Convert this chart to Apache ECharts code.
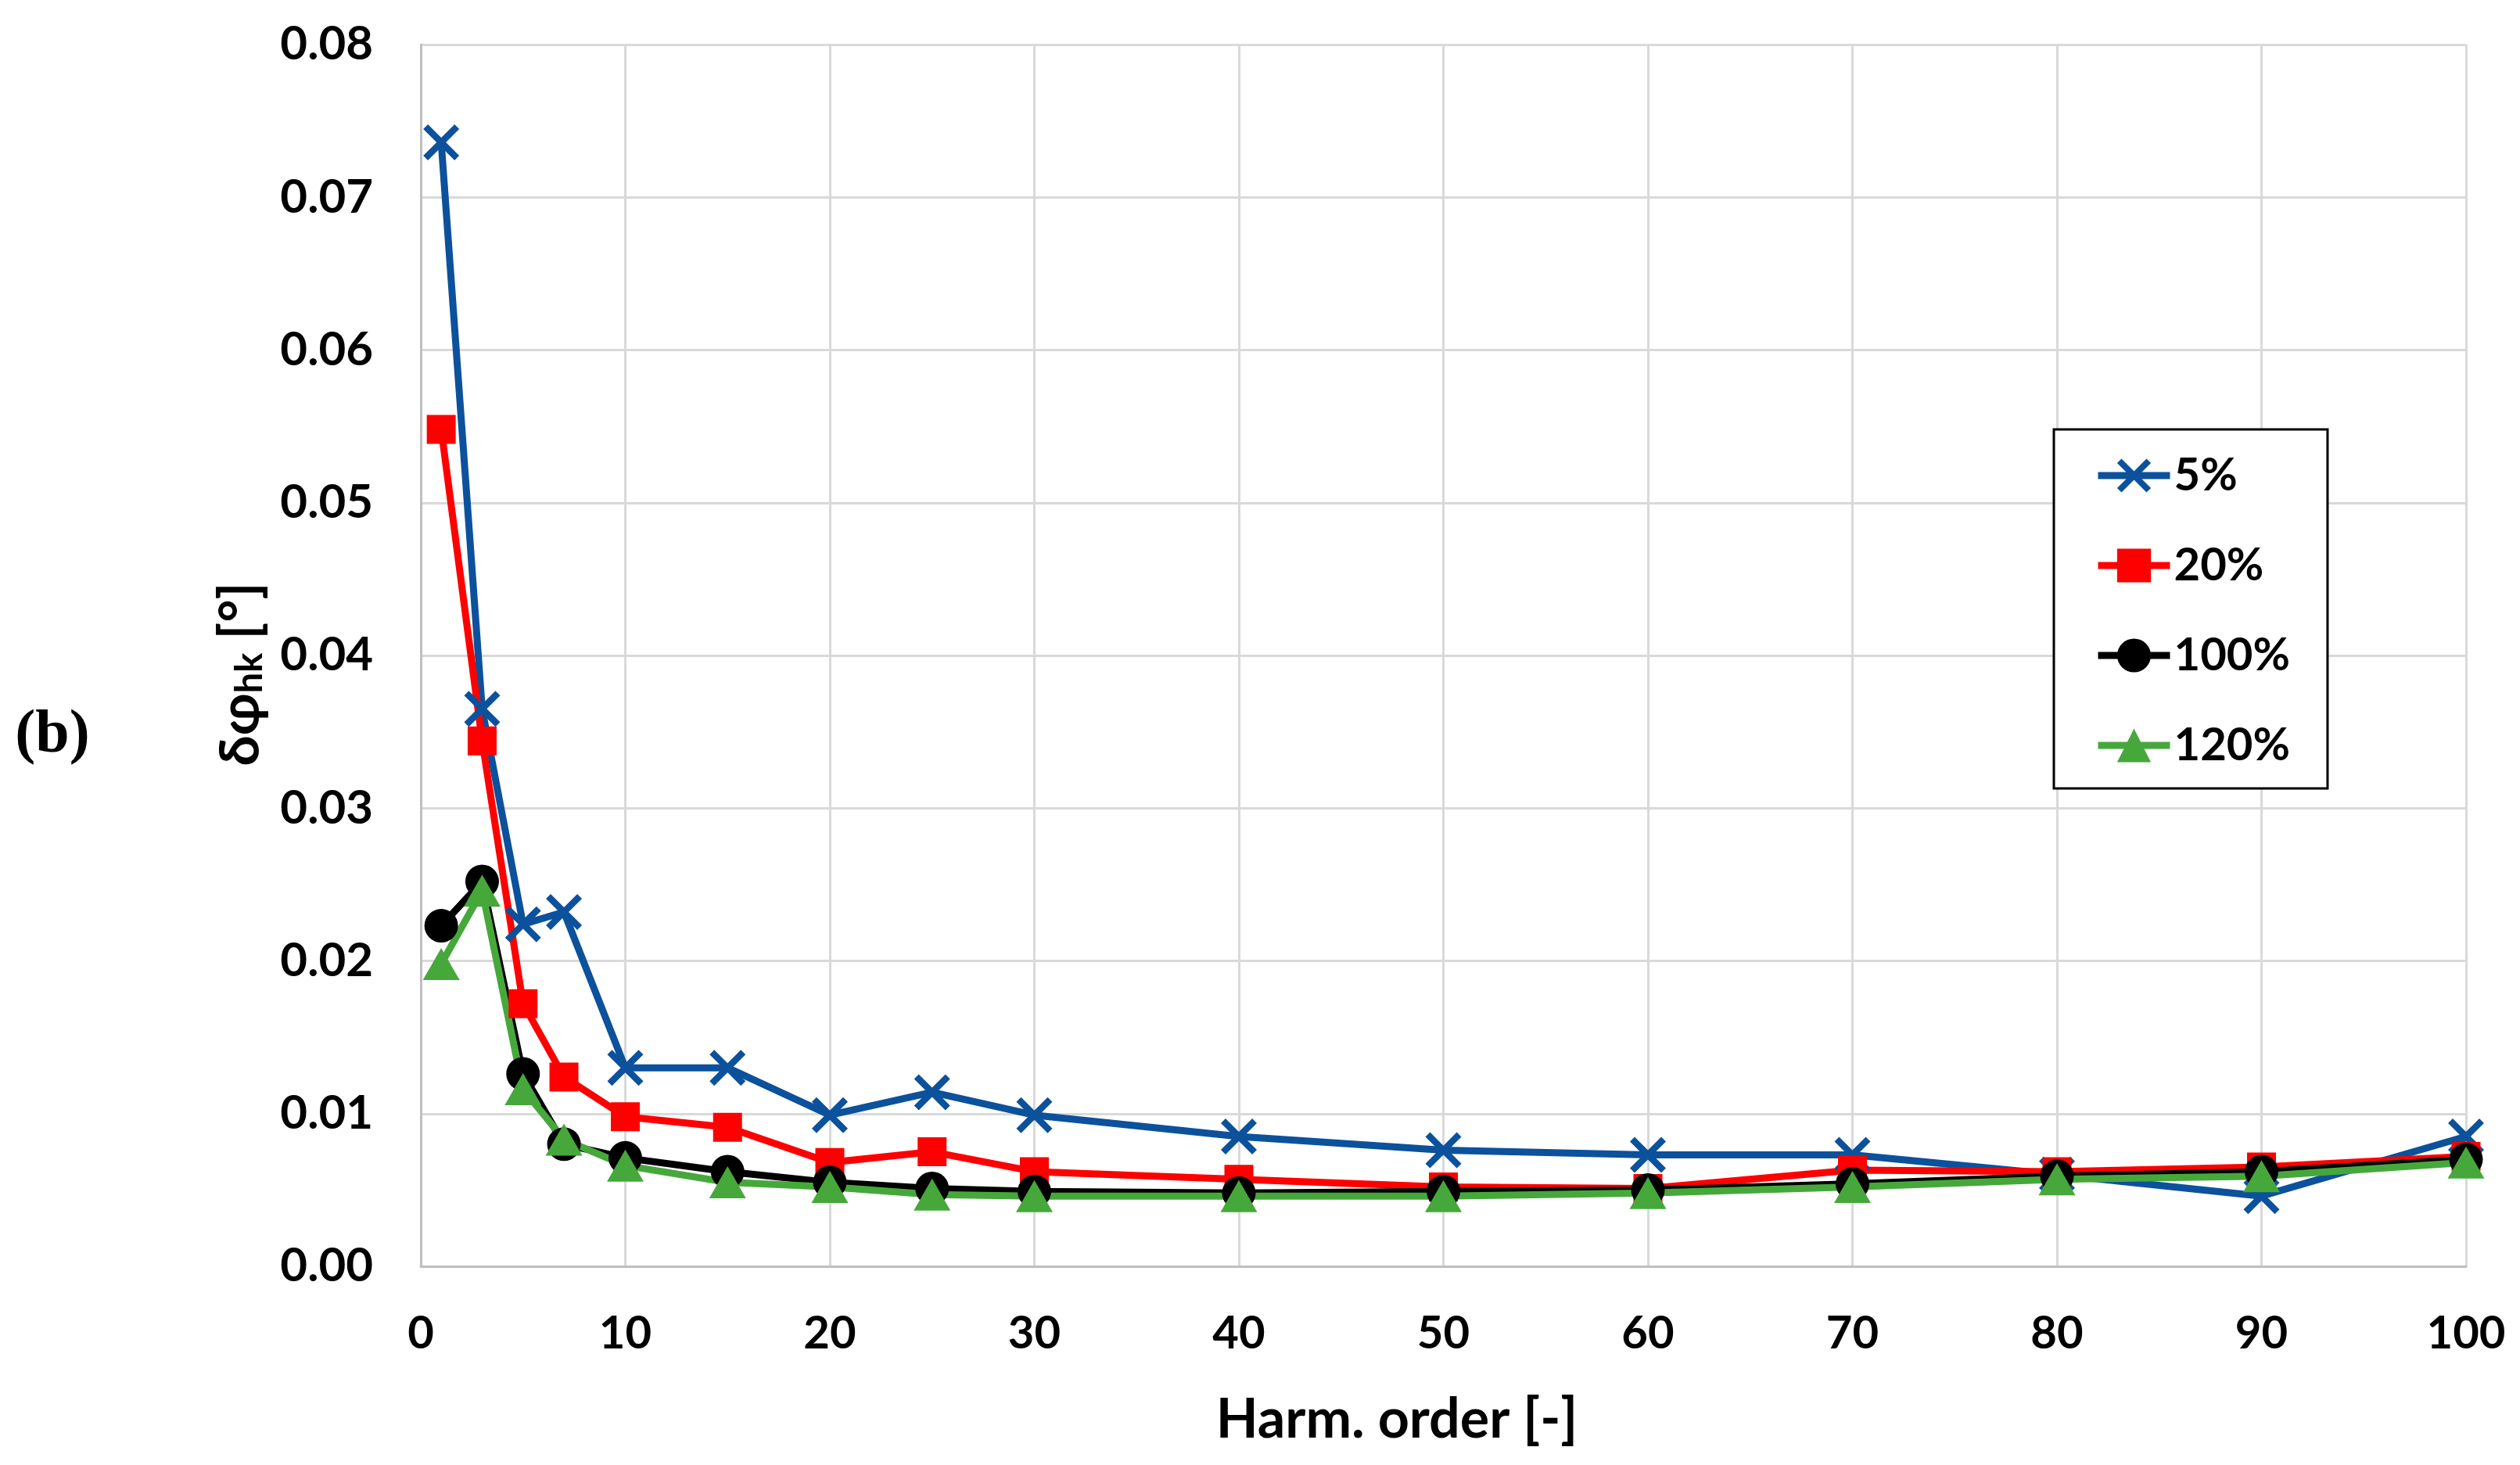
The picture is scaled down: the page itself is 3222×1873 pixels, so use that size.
<!DOCTYPE html>
<html>
<head>
<meta charset="utf-8">
<script src="https://cdn.jsdelivr.net/npm/echarts@6/dist/echarts.min.js"></script>
<style>
html,body{margin:0;padding:0;background:#fff;}
#chart{width:3222px;height:1873px;}
</style>
</head>
<body>
<div id="chart"></div>
<script>
// Harmonic orders (x) and phase deviation values (y, degrees)
const harmonics = [1, 3, 5, 7, 10, 15, 20, 25, 30, 40, 50, 60, 70, 80, 90, 100];
const s5   = [0.0736, 0.0365, 0.0224, 0.0232, 0.0130, 0.0130, 0.0099, 0.0114, 0.0099, 0.0085, 0.0076, 0.0073, 0.0073, 0.0060, 0.0046, 0.0085];
const s20  = [0.0548, 0.0344, 0.0172, 0.0124, 0.0098, 0.0091, 0.0068, 0.0075, 0.0062, 0.0057, 0.0052, 0.0051, 0.0063, 0.0062, 0.0065, 0.0072];
const s100 = [0.0223, 0.0252, 0.0126, 0.0080, 0.0071, 0.0062, 0.0055, 0.0051, 0.0049, 0.0048, 0.0049, 0.0050, 0.0054, 0.0059, 0.0062, 0.0070];
const s120 = [0.0198, 0.0246, 0.0116, 0.0083, 0.0066, 0.0055, 0.0052, 0.0047, 0.0046, 0.0046, 0.0046, 0.0048, 0.0052, 0.0057, 0.0059, 0.0068];
const seriesNames = ['5%', '20%', '100%', '120%'];
const xTicks = [0, 10, 20, 30, 40, 50, 60, 70, 80, 90, 100];
const yTicks = [0, 0.01, 0.02, 0.03, 0.04, 0.05, 0.06, 0.07, 0.08];
const xTitle = 'Harm. order [-]';
const yTitle = '{m|δφ}{s|hk}{m| [°]}';
const panelLabel = '(b)';

const FONT = 'Lato, "Noto Sans", "DejaVu Sans", sans-serif';
const xSymbol = 'path://M0,13 L13,0 L50,37 L87,0 L100,13 L63,50 L100,87 L87,100 L50,63 L13,100 L0,87 L37,50 Z';

function pairs(vals) { return harmonics.map((h, i) => [h, vals[i]]); }

const chart = echarts.init(document.getElementById('chart'), null, {renderer: 'canvas'});

const lineW = 9;
function mk(name, vals, color, symbol, size) {
  return {
    name: name,
    type: 'line',
    data: pairs(vals),
    symbol: symbol,
    symbolSize: size,
    showAllSymbol: true,
    lineStyle: {color: color, width: lineW},
    itemStyle: {color: color, borderWidth: 0},
    emphasis: {disabled: true},
    animation: false
  };
}

chart.setOption({
  animation: false,
  backgroundColor: '#ffffff',
  grid: {left: 538, right: 69, top: 57, bottom: 254, containLabel: false},
  legend: {
    show: true,
    orient: 'vertical',
    left: 2626,
    top: 549,
    data: seriesNames,
    itemWidth: 92,
    itemHeight: 54,
    itemGap: 57,
    padding: [30, 48, 26, 52],
    borderColor: '#000000',
    borderWidth: 3,
    backgroundColor: '#ffffff',
    lineStyle: {width: lineW},
    itemStyle: {borderWidth: 0},
    textStyle: {fontFamily: FONT, fontWeight: 'bold', fontSize: 58, color: '#000'}
  },
  xAxis: {
    type: 'value',
    min: 0, max: 100, interval: 10,
    axisLine: {show: true, lineStyle: {color: '#bfbfbf', width: 3}},
    axisTick: {show: false},
    axisLabel: {margin: 57, fontFamily: FONT, fontWeight: 'bold', fontSize: 58, color: '#000',
      formatter: v => (xTicks.indexOf(v) >= 0 ? String(v) : '')},
    splitLine: {show: true, lineStyle: {color: '#d9d9d9', width: 3}}
  },
  yAxis: {
    type: 'value',
    min: 0, max: 0.08, interval: 0.01,
    axisLine: {show: true, lineStyle: {color: '#bfbfbf', width: 3}},
    axisTick: {show: false},
    axisLabel: {margin: 61, fontFamily: FONT, fontWeight: 'bold', fontSize: 60, color: '#000',
      formatter: v => v.toFixed(2)},
    splitLine: {show: true, lineStyle: {color: '#d9d9d9', width: 3}}
  },
  graphic: [
    {
      type: 'text',
      x: 67, y: 941,
      style: {text: panelLabel, font: 'bold 78px "Liberation Serif", "DejaVu Serif", serif', fill: '#000',
        align: 'center', verticalAlign: 'middle'}
    },
    {
      type: 'text',
      x: 1786, y: 1815,
      style: {text: xTitle, font: 'bold 70px ' + FONT, fill: '#000', align: 'center', verticalAlign: 'middle'}
    },
    {
      type: 'text',
      x: 304, y: 862,
      rotation: Math.PI / 2,
      style: {
        text: yTitle, align: 'center', verticalAlign: 'middle',
        rich: {
          m: {fontFamily: FONT, fontWeight: 'bold', fontSize: 70, fill: '#000', color: '#000', verticalAlign: 'bottom', lineHeight: 78},
          s: {fontFamily: FONT, fontWeight: 'bold', fontSize: 47, fill: '#000', color: '#000', verticalAlign: 'bottom', lineHeight: 66}
        }
      }
    }
  ],
  series: [
    mk(seriesNames[0], s5, '#0c519c', xSymbol, 46),
    mk(seriesNames[1], s20, '#ff0000', 'rect', 37),
    mk(seriesNames[2], s100, '#000000', 'circle', 43),
    mk(seriesNames[3], s120, '#46a83b', 'triangle', [47, 41])
  ]
});
</script>
</body>
</html>
